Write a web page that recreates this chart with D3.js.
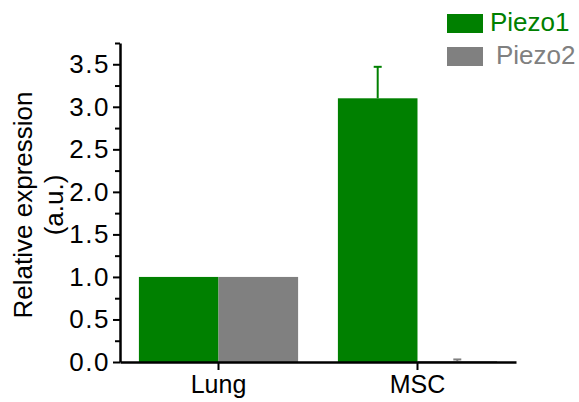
<!DOCTYPE html>
<html>
<head>
<meta charset="utf-8">
<script src="https://cdn.jsdelivr.net/npm/d3@7"></script>
<style>
    body { margin: 0; background: #fff; }
    svg text { font-family: "Liberation Sans", Arial, sans-serif; }
</style>
</head>
<body>
<div id="chart"></div>
<script>
(function() {
    var categories = ["Lung", "MSC"];
    var seriesNames = ["Piezo1", "Piezo2"];
    var piezo1Values = [1.0, 3.1];
    var piezo1Errors = [0, 0.37];
    var piezo2Values = [1.0, 0.01];
    var piezo2Errors = [0, 0.02];
    var yTicks = [0, 0.5, 1.0, 1.5, 2.0, 2.5, 3.0, 3.5];
    var yMinorTicks = [0.25, 0.75, 1.25, 1.75, 2.25, 2.75, 3.25, 3.75];

    var width = 579, height = 402;

    var colorScale = d3.scaleOrdinal().domain(seriesNames)
        .range(["#008000", "#808080"]);

    var xPositionScale = d3.scaleBand()
        .domain(categories)
        .range([120, 516])
        .paddingInner(0.2)
        .paddingOuter(0.095);

    var subScale = d3.scaleBand()
        .domain(seriesNames)
        .range([0, xPositionScale.bandwidth()]);

    var yPositionScale = d3.scaleLinear()
        .domain([0, 3.75])
        .range([362, 43]);

    var svg = d3.select("#chart")
        .append("svg")
        .attr("width", width)
        .attr("height", height);

    var datapoints = [];
    categories.forEach(function(c, i) {
        datapoints.push({ cat: c, series: "Piezo1", value: piezo1Values[i], err: piezo1Errors[i] });
        datapoints.push({ cat: c, series: "Piezo2", value: piezo2Values[i], err: piezo2Errors[i] });
    });

    // error bars (drawn first, bar covers the lower part)
    var errs = datapoints.filter(function(d) { return d.err > 0; });
    errs.forEach(function(d) {
        var cx = xPositionScale(d.cat) + subScale(d.series) + subScale.bandwidth() / 2;
        var yTop = yPositionScale(d.value + d.err);
        svg.append("line")
            .attr("x1", cx).attr("x2", cx)
            .attr("y1", yPositionScale(d.value)).attr("y2", yTop)
            .attr("stroke", colorScale(d.series))
            .attr("stroke-width", 2);
        svg.append("line")
            .attr("x1", cx - 4).attr("x2", cx + 4)
            .attr("y1", yTop).attr("y2", yTop)
            .attr("stroke", colorScale(d.series))
            .attr("stroke-width", 2);
    });

    svg.selectAll(".bar")
        .data(datapoints)
        .enter().append("rect")
        .attr("class", "bar")
        .attr("x", function(d) { return xPositionScale(d.cat) + subScale(d.series); })
        .attr("width", subScale.bandwidth())
        .attr("y", function(d) { return yPositionScale(d.value); })
        .attr("height", function(d) { return yPositionScale(0) - yPositionScale(d.value); })
        .attr("fill", function(d) { return colorScale(d.series); });

    // y axis
    var yAxis = d3.axisLeft(yPositionScale)
        .tickValues(yTicks)
        .tickFormat(d3.format(".1f"))
        .tickSize(7)
        .tickSizeOuter(0)
        .tickPadding(3);

    svg.append("g")
        .attr("class", "y-axis")
        .attr("transform", "translate(120,0)")
        .call(yAxis);

    svg.append("g")
        .attr("class", "y-minor")
        .attr("transform", "translate(120,0)")
        .call(d3.axisLeft(yPositionScale).tickValues(yMinorTicks).tickSize(5).tickSizeOuter(0).tickFormat(""))
        .select(".domain").remove();

    // x axis
    var xAxis = d3.axisBottom(xPositionScale)
        .tickSize(8)
        .tickSizeOuter(0)
        .tickPadding(5);

    svg.append("g")
        .attr("class", "x-axis")
        .attr("transform", "translate(0,362)")
        .call(xAxis);

    svg.selectAll(".domain").attr("stroke", "#000").attr("stroke-width", 2.5);
    svg.selectAll(".tick line").attr("stroke", "#000").attr("stroke-width", 2);
    svg.selectAll(".tick text")
        .attr("fill", "#000")
        .style("font-size", "25px")
        .style("font-family", "Liberation Sans, Arial, sans-serif");
    svg.selectAll(".y-axis .tick text")
        .style("font-size", "26px")
        .style("letter-spacing", "1.5px");

    // y title
    var title = svg.append("text")
        .attr("transform", "translate(32,205) rotate(-90)")
        .attr("text-anchor", "middle")
        .style("font-size", "26px")
        .attr("fill", "#000");
    title.append("tspan").attr("x", 0).attr("dy", 0).text("Relative expression");
    title.append("tspan").attr("x", 0).attr("dy", 31).text("(a.u.)");

    // legend
    var legend = svg.selectAll(".legend")
        .data(seriesNames)
        .enter().append("g")
        .attr("class", "legend")
        .attr("transform", function(d, i) { return "translate(447," + (14 + i * 33) + ")"; });

    legend.append("rect")
        .attr("width", 36)
        .attr("height", 19)
        .attr("fill", function(d) { return colorScale(d); });

    legend.append("text")
        .attr("x", function(d, i) { return i === 0 ? 43 : 49; })
        .attr("y", 17)
        .style("font-size", "26px")
        .attr("fill", function(d) { return colorScale(d); })
        .text(function(d) { return d; });
})();
</script>
</body>
</html>
